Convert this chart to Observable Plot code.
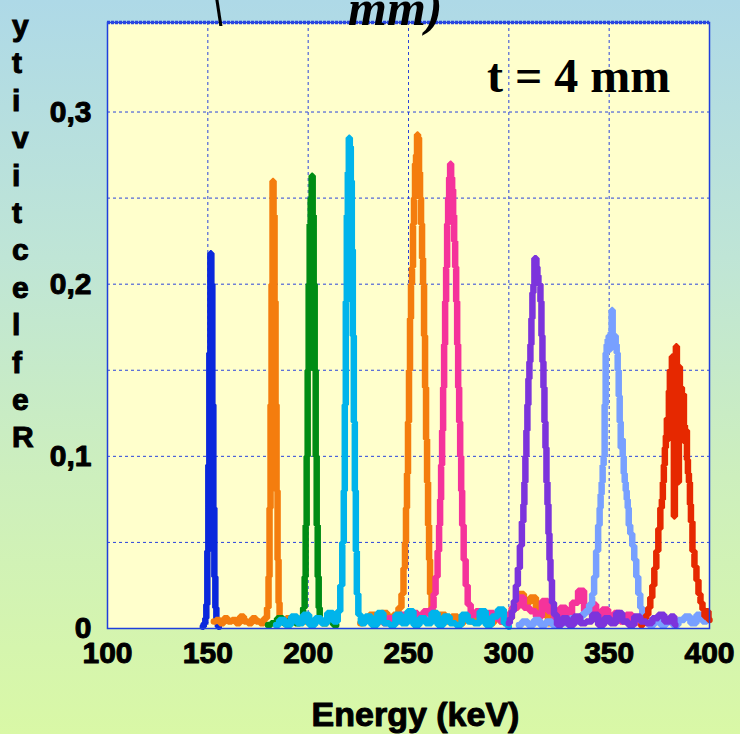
<!DOCTYPE html>
<html>
<head>
<meta charset="utf-8">
<script src="https://cdn.jsdelivr.net/npm/d3@7"></script>
<script src="https://cdn.jsdelivr.net/npm/@observablehq/plot@0.6"></script>
<style>
  html, body { margin: 0; padding: 0; }
  body {
    width: 740px; height: 734px; overflow: hidden; position: relative;
    background: linear-gradient(to bottom, #aed9e7 0%, #bfe5d6 35%, #cdefbd 65%, #d9f8a6 100%);
  }
  #chart { position: absolute; left: 0; top: 0; }
  #chart svg text { paint-order: stroke; stroke: #000; stroke-width: 1px; stroke-linejoin: round; }
  .ylab {
    position: absolute; left: 12px; top: 7px;
    font: bold 30px "Liberation Sans", Arial, sans-serif; line-height: 37.4px;
    color: #000; -webkit-text-stroke: 1px #000;
  }
  .note {
    position: absolute; left: 487px; top: 48px; line-height: 48px;
    font: bold 48px "Liberation Serif", "Times New Roman", serif; color: #000; white-space: nowrap;
  }
  .ttl {
    position: absolute; top: -21px; line-height: 50px;
    font: italic bold 50px "Liberation Serif", "Times New Roman", serif; color: #000; white-space: nowrap;
  }
</style>
</head>
<body>
<div id="chart"></div>
<script>
// ---- data: [energy keV, reflectivity] ----
const blue = [[147.5,0.001],[148.5,0.003],[149,0.006],[149.5,0.014],[150,0.045],[150.5,0.095],[151,0.16],[151.5,0.218],[152,0.2],[152.5,0.13],[153,0.07],[153.5,0.03],[154,0.012],[154.5,0.004],[155.5,0.001]];
const orange1 = [[153,0.004],[155,0.005],[157,0.003],[159,0.006],[161,0.004],[163,0.005],[165,0.003],[167,0.007],[169,0.004],[171,0.003],[173,0.006],[175,0.004],[177,0.003],[179,0.006],[180,0.012],[180.5,0.03],[181,0.07],[181.5,0.13],[182,0.2],[182.5,0.26],[183,0.24],[183.5,0.19],[184,0.13],[184.5,0.08],[185,0.04],[185.5,0.015],[186,0.006],[188,0.004],[190,0.006],[193,0.004],[196,0.005],[199,0.004]];
const green = [[180,0.002],[183,0.003],[186,0.006],[189,0.003],[192,0.005],[195,0.003],[197,0.006],[198,0.012],[198.5,0.03],[199,0.06],[199.5,0.1],[200,0.15],[200.5,0.2],[201,0.235],[201.5,0.25],[202,0.263],[202.5,0.24],[203,0.2],[203.5,0.15],[204,0.1],[204.5,0.06],[205,0.03],[205.5,0.012],[206,0.005],[208,0.003],[211,0.005],[214,0.002]];
const cyan = [[184,0.002],[187,0.005],[190,0.002],[193,0.007],[196,0.003],[199,0.008],[202,0.002],[205,0.006],[208,0.003],[211,0.009],[214,0.004],[215.5,0.01],[216.5,0.025],[217.5,0.05],[218,0.08],[218.5,0.13],[219,0.19],[219.5,0.24],[220,0.265],[220.5,0.285],[221,0.28],[221.5,0.26],[222,0.22],[222.5,0.17],[223,0.12],[223.5,0.08],[224,0.045],[224.5,0.02],[225.5,0.008],[227,0.003],[230,0.007],[233,0.002],[236,0.009],[239,0.003],[242,0.002],[245,0.008],[248,0.003],[251,0.01],[254,0.002],[257,0.006],[260,0.003],[263,0.009],[266,0.002],[269,0.007],[272,0.003],[275,0.002],[278,0.008],[281,0.004],[284,0.003],[287,0.01],[290,0.002],[293,0.007],[296,0.011],[299,0.003],[300,0.001]];
const orange2 = [[226,0.003],[229,0.006],[232,0.008],[235,0.004],[238,0.009],[241,0.005],[244,0.008],[246,0.012],[247,0.02],[248,0.035],[248.5,0.05],[249,0.07],[249.5,0.09],[250,0.12],[250.5,0.15],[251,0.18],[251.5,0.2],[252,0.21],[252.5,0.235],[253,0.25],[253.5,0.27],[254,0.275],[254.5,0.287],[255,0.285],[255.5,0.265],[256,0.25],[256.5,0.235],[257,0.215],[257.5,0.2],[258,0.17],[258.5,0.14],[259,0.11],[259.5,0.085],[260,0.06],[260.5,0.04],[261,0.02],[262,0.01],[264,0.006],[267,0.008],[270,0.004],[273,0.007],[276,0.003],[279,0.006],[282,0.004],[285,0.008],[288,0.005],[291,0.003],[294,0.007],[297,0.004],[300,0.006],[303,0.012],[306,0.02],[309,0.015],[312,0.018],[315,0.012],[318,0.008],[321,0.003]];
const pink = [[238,0.003],[241,0.006],[244,0.004],[247,0.008],[250,0.005],[253,0.009],[256,0.006],[259,0.01],[261,0.008],[262,0.012],[263,0.02],[264,0.03],[265,0.045],[265.5,0.06],[266,0.075],[266.5,0.095],[267,0.115],[267.5,0.14],[268,0.165],[268.5,0.19],[269,0.21],[269.5,0.235],[270,0.25],[270.5,0.262],[271,0.27],[271.5,0.262],[272,0.255],[272.5,0.24],[273,0.225],[273.5,0.21],[274,0.19],[274.5,0.165],[275,0.14],[275.5,0.12],[276,0.1],[276.5,0.08],[277,0.06],[278,0.04],[279,0.025],[280,0.014],[282,0.008],[285,0.01],[288,0.005],[291,0.009],[294,0.006],[297,0.004],[300,0.008],[303,0.012],[306,0.018],[309,0.012],[312,0.01],[315,0.007],[318,0.016],[321,0.01],[324,0.005],[327,0.012],[330,0.007],[333,0.015],[336,0.022],[339,0.01],[342,0.014],[345,0.007],[348,0.011],[351,0.005],[354,0.009],[357,0.004],[360,0.008],[363,0.003]];
const purple = [[300,0.003],[301,0.006],[302,0.01],[303,0.016],[304,0.025],[305,0.035],[306,0.048],[307,0.062],[307.5,0.072],[308,0.085],[308.5,0.1],[309,0.115],[309.5,0.13],[310,0.145],[310.5,0.155],[311,0.165],[311.5,0.18],[312,0.195],[312.5,0.2],[313,0.215],[313.5,0.215],[314,0.21],[314.5,0.205],[315,0.2],[315.5,0.2],[316,0.19],[316.5,0.17],[317,0.155],[317.5,0.14],[318,0.12],[318.5,0.105],[319,0.085],[319.5,0.072],[320,0.055],[320.5,0.04],[321,0.028],[322,0.015],[323,0.008],[325,0.002],[328,0.006],[331,0.002],[334,0.007],[337,0.003],[340,0.004],[343,0.008],[346,0.002],[349,0.006],[352,0.003],[355,0.009],[358,0.004],[361,0.002],[364,0.007],[367,0.004],[370,0.003],[373,0.006],[376,0.008],[379,0.004],[382,0.007],[383,0.002]];
const lightblue = [[305,0.002],[308,0.004],[311,0.002],[314,0.005],[317,0.002],[320,0.004],[323,0.002],[326,0.005],[329,0.003],[332,0.006],[335,0.004],[337,0.008],[339,0.01],[341,0.014],[342,0.02],[343,0.03],[344,0.045],[345,0.06],[345.5,0.07],[346,0.078],[346.5,0.085],[347,0.095],[347.5,0.1],[348,0.13],[348.5,0.16],[349,0.165],[349.5,0.168],[350,0.17],[350.5,0.162],[351,0.172],[351.5,0.185],[352,0.17],[352.5,0.168],[353,0.17],[353.5,0.165],[354,0.16],[354.5,0.15],[355,0.135],[355.5,0.12],[356,0.105],[356.5,0.11],[357,0.1],[357.5,0.09],[358,0.085],[358.5,0.08],[359,0.075],[359.5,0.07],[360,0.06],[361,0.055],[362,0.048],[363,0.04],[364,0.03],[365,0.02],[366,0.012],[367,0.006],[368,0.004],[371,0.002],[374,0.005],[377,0.002],[380,0.004],[383,0.002],[386,0.005],[389,0.007],[392,0.003],[395,0.008],[398,0.004],[399.5,0.006]];
const red = [[366,0.002],[368,0.006],[369,0.008],[370,0.012],[371,0.018],[372,0.025],[373,0.035],[374,0.045],[375,0.058],[376,0.07],[376.5,0.075],[377,0.085],[377.5,0.095],[378,0.105],[378.5,0.112],[379,0.122],[379.5,0.11],[380,0.138],[380.5,0.15],[381,0.132],[381.5,0.158],[382,0.12],[382.5,0.065],[383,0.148],[383.5,0.164],[384,0.145],[384.5,0.085],[385,0.152],[385.5,0.13],[386,0.14],[386.5,0.122],[387,0.136],[387.5,0.118],[388,0.108],[388.5,0.115],[389,0.098],[389.5,0.09],[390,0.085],[390.5,0.072],[391,0.062],[392,0.045],[393,0.036],[394,0.028],[395,0.02],[396,0.015],[397,0.011],[398,0.007],[399,0.01],[400,0.005]];

// drawing order and colours
const seriesNames = ["152 keV", "183 keV", "202 keV", "255 keV", "271 keV", "221 keV", "352 keV", "384 keV", "313 keV"];
const seriesData = [blue, orange1, green, orange2, pink, cyan, lightblue, red, purple];
const seriesColors = ["#0a28dc", "#f47d0e", "#008c14", "#f47d0e", "#f5339b", "#00b4eb", "#78a0ff", "#e62800", "#7c34dc"];

const xTicks = [100, 150, 200, 250, 300, 350, 400];
const yTicks = [0, 0.1, 0.2, 0.3];
const yTickLabels = ["0", "0,1", "0,2", "0,3"];
const gridX = [150, 200, 250, 300, 350];
const gridY = [0.05, 0.1, 0.15, 0.2, 0.25, 0.3];
const yMax = 0.352;

const rows = seriesData.flatMap((pts, k) => pts.map(([e, r]) => ({series: seriesNames[k], energy: e, refl: r})));

const gridStyle = {stroke: "#2a44dc", strokeWidth: 1, strokeDasharray: "3,3"};

const chart = Plot.plot({
  width: 740,
  height: 734,
  marginLeft: 107,
  marginRight: 31,
  marginTop: 22,
  marginBottom: 106,
  style: {background: "transparent", fontFamily: "'Liberation Sans', Arial, sans-serif", fontWeight: "bold", fontSize: "30px", color: "#000", overflow: "visible"},
  x: {domain: [100, 400]},
  y: {domain: [0, yMax]},
  color: {domain: seriesNames, range: seriesColors},
  marks: [
    Plot.frame({fill: "#ffffcc", stroke: "none"}),
    Plot.ruleX(gridX, gridStyle),
    Plot.ruleY(gridY, gridStyle),
    Plot.line(rows, {x: "energy", y: "refl", z: "series", stroke: "series", strokeWidth: 6.5, curve: "step", strokeLinejoin: "miter"}),
    Plot.frame({stroke: "#1f3fdc", strokeWidth: 1.5}),
    Plot.ruleY([yMax], {stroke: "#2846e0", strokeWidth: 3.5, strokeDasharray: "3,1"}),
    Plot.axisX(xTicks, {tickSize: 0, tickPadding: 13, label: null, tickFormat: d => String(d), fontSize: 30, fontWeight: "bold"}),
    Plot.axisY(yTicks, {tickSize: 0, tickPadding: 16, label: null, tickFormat: d => yTickLabels[yTicks.indexOf(d)], fontSize: 30, fontWeight: "bold"}),
    Plot.text(["Energy (keV)"], {frameAnchor: "bottom", dx: 7, dy: 87, text: d => d, fontSize: 34, fontWeight: "bold", lineAnchor: "middle"})
  ]
});
document.getElementById("chart").appendChild(chart);

// overlay texts
const yLabel = "Reflectivity";
const ylab = document.createElement("div");
ylab.className = "ylab";
ylab.innerHTML = yLabel.split("").reverse().join("<br>");
document.body.appendChild(ylab);

const note = document.createElement("div");
note.className = "note";
note.textContent = "t = 4 mm";
document.body.appendChild(note);

const t1 = document.createElement("div");
t1.className = "ttl"; t1.style.left = "211px"; t1.textContent = "\\";
document.body.appendChild(t1);
const t2 = document.createElement("div");
t2.className = "ttl"; t2.style.left = "348px"; t2.textContent = "mm)";
document.body.appendChild(t2);
</script>
</body>
</html>
